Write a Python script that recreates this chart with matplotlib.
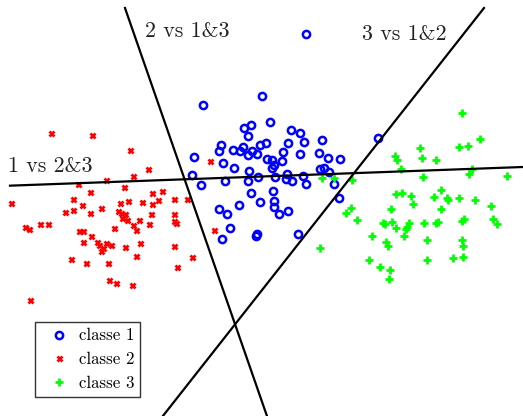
import matplotlib
matplotlib.use("Agg")
import matplotlib.pyplot as plt
import numpy as np

plt.rcParams['font.family'] = ['cmr10', 'DejaVu Serif']
plt.rcParams['axes.formatter.use_mathtext'] = True

# class 1 (blue circles)
c1_x = [262, 203, 270, 244, 251, 248, 291, 300, 304, 322, 221, 219, 233, 243, 240, 248, 252, 257,
        260, 266, 288, 283, 300, 319, 328, 340, 194, 223, 267, 272, 282, 274, 272, 234, 249, 320,
        324, 329, 192, 258, 275, 287, 286, 292, 303, 306, 201, 225, 248, 334, 273, 251, 239, 260,
        274, 274, 279, 288, 219, 227, 339, 230, 222, 256, 257, 298, 378, 306]
c1_y = [96, 105, 122, 128, 125, 136, 130, 133, 142, 140, 145, 151, 150, 147, 151, 155, 151, 154,
        145, 143, 143, 152, 154, 153, 158, 159, 157, 163, 159, 160, 161, 165, 168, 168, 171, 169,
        168, 172, 175, 177, 177, 174, 179, 181, 176, 184, 185, 181, 181, 184, 191, 193, 205, 202,
        201, 207, 214, 211, 209, 214, 198, 228, 239, 236, 234, 234, 138, 34]

# class 2 (red crosses)
c2_x = [51, 92, 130, 148, 133, 106, 78, 124, 90, 152, 162, 73, 82, 120, 128, 142, 152, 158, 174,
        187, 11, 65, 73, 90, 101, 118, 121, 125, 122, 127, 139, 151, 149, 133, 136, 174, 174, 176,
        25, 29, 40, 48, 114, 79, 83, 91, 83, 97, 99, 106, 111, 103, 101, 125, 140, 136, 174, 192,
        71, 86, 108, 177, 109, 116, 132, 30, 210, 214]
c2_y = [133, 135, 150, 169, 176, 180, 184, 187, 192, 193, 191, 199, 205, 203, 201, 202, 204, 200,
        199, 199, 203, 212, 210, 213, 208, 211, 213, 214, 218, 220, 220, 214, 224, 225, 230, 214,
        221, 223, 227, 229, 224, 224, 228, 231, 231, 236, 242, 242, 245, 243, 245, 248, 251, 247,
        243, 256, 246, 257, 259, 263, 263, 267, 280, 283, 285, 300, 161, 230]

# class 3 (green plus)
c3_x = [462, 480, 459, 468, 420, 395, 397, 422, 436, 401, 472, 469, 423, 507, 322, 334, 352, 396,
        402, 411, 441, 434, 447, 448, 459, 475, 413, 491, 391, 441, 351, 346, 357, 383, 385, 392,
        409, 407, 396, 406, 424, 436, 438, 462, 464, 493, 497, 372, 404, 427, 462, 463, 386, 388,
        320, 453, 463, 369, 427, 380, 390, 389]
c3_y = [113, 139, 147, 146, 148, 156, 160, 158, 160, 169, 169, 174, 177, 176, 178, 178, 180, 194,
        193, 196, 190, 197, 198, 200, 198, 200, 204, 206, 209, 209, 208, 213, 220, 223, 224, 222,
        223, 227, 228, 229, 223, 223, 222, 221, 219, 219, 224, 236, 236, 240, 240, 246, 242, 246,
        248, 258, 257, 260, 260, 267, 270, 279]

# decision boundaries a*x + b*y + c = 0
boundaries = [(0.0364, 1.0, -186.03), (1.0, -0.348, -122.2), (1.0, 0.787, -490.3)]
boundary_labels = ["1 vs 2&3", "2 vs 1&3", "3 vs 1&2"]

fig = plt.figure(figsize=(5.23, 4.16), dpi=100)
ax = fig.add_axes([0, 0, 1, 1])
ax.set_xlim(0, 523)
ax.set_ylim(416, 0)
ax.axis('off')

ax.plot(c1_x, c1_y, 'o', mfc='none', mec=(0, 0, 1), mew=1.8, ms=5.2, ls='none', label='classe 1')
ax.plot(c2_x, c2_y, 'x', mec=(1, 0, 0), mew=2.0, ms=3.6, ls='none', label='classe 2')
ax.plot(c3_x, c3_y, '+', mec=(0, 1, 0), mew=2.0, ms=5.5, ls='none', label='classe 3')

# line 1 over x range, lines 2 and 3 over y range
a, b, c = boundaries[0]
xs = np.array([10, 523])
ax.plot(xs, -(a * xs + c) / b, color='black', lw=1.6)
for a, b, c in boundaries[1:]:
    ys = np.array([8, 416])
    ax.plot(-(b * ys + c) / a, ys, color='black', lw=1.6)

ax.text(8, 166, boundary_labels[0], fontsize=15.8, ha='left', va='center', color='#222222')
ax.text(145, 31, boundary_labels[1], fontsize=15.8, ha='left', va='center', color='#222222')
ax.text(362, 34, boundary_labels[2], fontsize=15.8, ha='left', va='center', color='#222222')

leg = ax.legend(loc='lower left', bbox_to_anchor=(35 / 523, 1 - 397 / 416), fontsize=12.2,
                frameon=True, fancybox=False, edgecolor='black', borderaxespad=0,
                handletextpad=0.15, labelspacing=0.5, borderpad=0.35, handlelength=2.1)
leg.get_frame().set_linewidth(1.0)

fig.savefig('out.png', dpi=100)
